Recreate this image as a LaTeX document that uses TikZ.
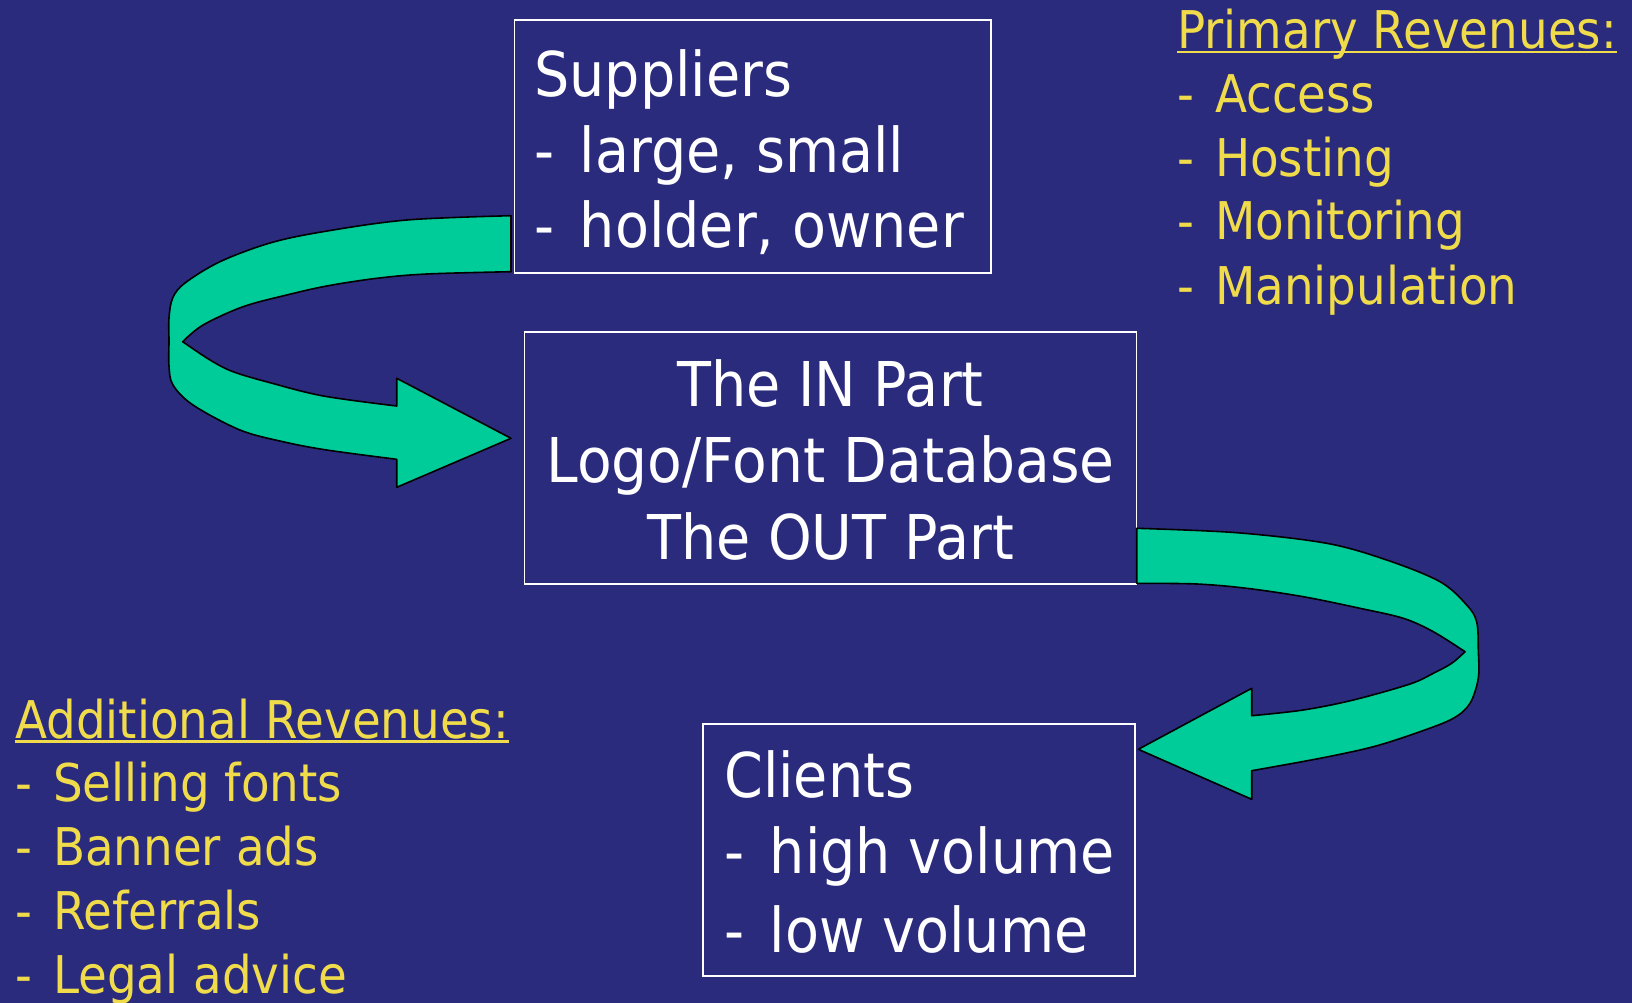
\documentclass[tikz,border=0pt]{standalone}
\usepackage{fontspec}
\setmainfont{DejaVu Sans}[FakeStretch=0.9]
\definecolor{slidebg}{RGB}{43,43,126}
\definecolor{flow}{RGB}{0,204,153}
\definecolor{revenue}{RGB}{240,220,75}
% list dash followed by a wider gap
\newcommand{\bdash}{-\hspace{6pt} }
\newcommand{\rdash}{-\hspace{4.5pt} }
\begin{document}
\begin{tikzpicture}[x=0.75pt,y=-0.75pt,
  boxframe/.style={draw=white, line width=1.3pt, inner sep=0pt, outer sep=0pt},
  boxtext/.style={text=white, inner sep=0pt, anchor=base west, font=\fontsize{46.3}{50}\selectfont},
  boxtextc/.style={boxtext, anchor=base},
  revtext/.style={text=revenue, inner sep=0pt, anchor=base west, font=\fontsize{39}{44}\selectfont},
  revline/.style={draw=revenue, line width=2.2pt},
  flowarrow/.style={fill=flow, draw=black, line width=1.2pt, line join=round}]
\useasboundingbox (0,0) rectangle (1632,1003);
\fill[slidebg] (0,0) rectangle (1632,1003);

% boxes
\node[boxframe, minimum width=357.5pt, minimum height=189.8pt] (sup) at (752.7,146.8) {};
\node[boxframe, minimum width=458.9pt, minimum height=189pt] (db) at (830.5,458) {};
\node[boxframe, minimum width=324.2pt, minimum height=188.6pt] (cli) at (918.8,850) {};

% suppliers text
\node[boxtext] (sup1) at (534,96) {Suppliers};
\node[boxtext] (sup2) at (534,172.7) {\bdash large, small};
\node[boxtext] (sup3) at (534,247.3) {\bdash holder, owner};

% database text
\node[boxtextc] (db1) at (830.5,406) {The IN Part};
\node[boxtextc] (db2) at (830.5,482.5) {\addfontfeature{FakeStretch=0.92}Logo/Font Database};
\node[boxtextc] (db3) at (830.5,559) {The OUT Part};

% clients text
\node[boxtext] (cli1) at (724,797.7) {Clients};
\node[boxtext] (cli2) at (724,873.3) {\bdash high volume};
\node[boxtext] (cli3) at (724,952.3) {\bdash low volume};

% primary revenues
\node[revtext] (prh) at (1177,48) {Primary Revenues:};
\draw[revline] ([yshift=-3pt]prh.base west) -- ([yshift=-3pt]prh.base east);
\node[revtext] (pr1) at (1177,112) {\rdash Access};
\node[revtext] (pr2) at (1177,176) {\rdash Hosting};
\node[revtext] (pr3) at (1177,239) {\rdash Monitoring};
\node[revtext] (pr4) at (1177,304) {\rdash Manipulation};

% additional revenues
\node[revtext] (arh) at (15,738.3) {Additional Revenues:};
\draw[revline] ([yshift=-2.6pt]arh.base west) -- ([yshift=-2.6pt]arh.base east);
\node[revtext] (ar1) at (15,801.7) {\rdash Selling fonts};
\node[revtext] (ar2) at (15,865) {\rdash Banner ads};
\node[revtext] (ar3) at (15,929.3) {\rdash Referrals};
\node[revtext] (ar4) at (15,993.3) {\rdash Legal advice};

% curved block arrow: suppliers -> database
\draw[flowarrow]
  plot[smooth, tension=0.55] coordinates {(511,215.7) (406.7,220) (323,231.7) (270,243) (220,261.7) (185,283) (172.7,298) (169,318) (169,341) (169,366) (173,385) (193,405) (240,430) (283,441.7) (326.7,450) (396.7,459.3)}
  -- (396.7,487.3) -- (511,438.3) -- (396.7,378.3) -- (396.7,406)
  -- plot[smooth, tension=0.55] coordinates {(396.7,406) (323.3,396) (270,382.7) (233,371.7) (210,360) (182.7,341.7)}
  -- plot[smooth, tension=0.55] coordinates {(182.7,341.7) (203,325) (243,306.7) (286.7,295) (326.7,286) (376.7,278.3) (426.7,274) (511,271.7)}
  -- cycle;

% curved block arrow: database -> clients
\draw[flowarrow]
  plot[smooth, tension=0.55] coordinates {(1136.7,528.3) (1236.7,532.7) (1326.7,543.3) (1386.7,560) (1440,581.7) (1466.7,605) (1476.7,622) (1478.3,650) (1478.3,678) (1470,703.3) (1453.3,718.3) (1420,731.7) (1373.3,746.7) (1320,758.3) (1251.7,770.7)}
  -- (1251.7,799.3) -- (1138.3,749.3) -- (1251.7,688.3) -- (1251.7,715.7)
  -- plot[smooth, tension=0.55] coordinates {(1251.7,715.7) (1303.3,710) (1353.3,700) (1410,684) (1433.3,673.3) (1451.7,663.3) (1465,651.7)}
  -- plot[smooth, tension=0.55] coordinates {(1465,651.7) (1433.3,631.7) (1403.3,618.3) (1360,608.3) (1303.3,596.7) (1246.7,588.3) (1196.7,584) (1136.7,583.3)}
  -- cycle;
\end{tikzpicture}
\end{document}
